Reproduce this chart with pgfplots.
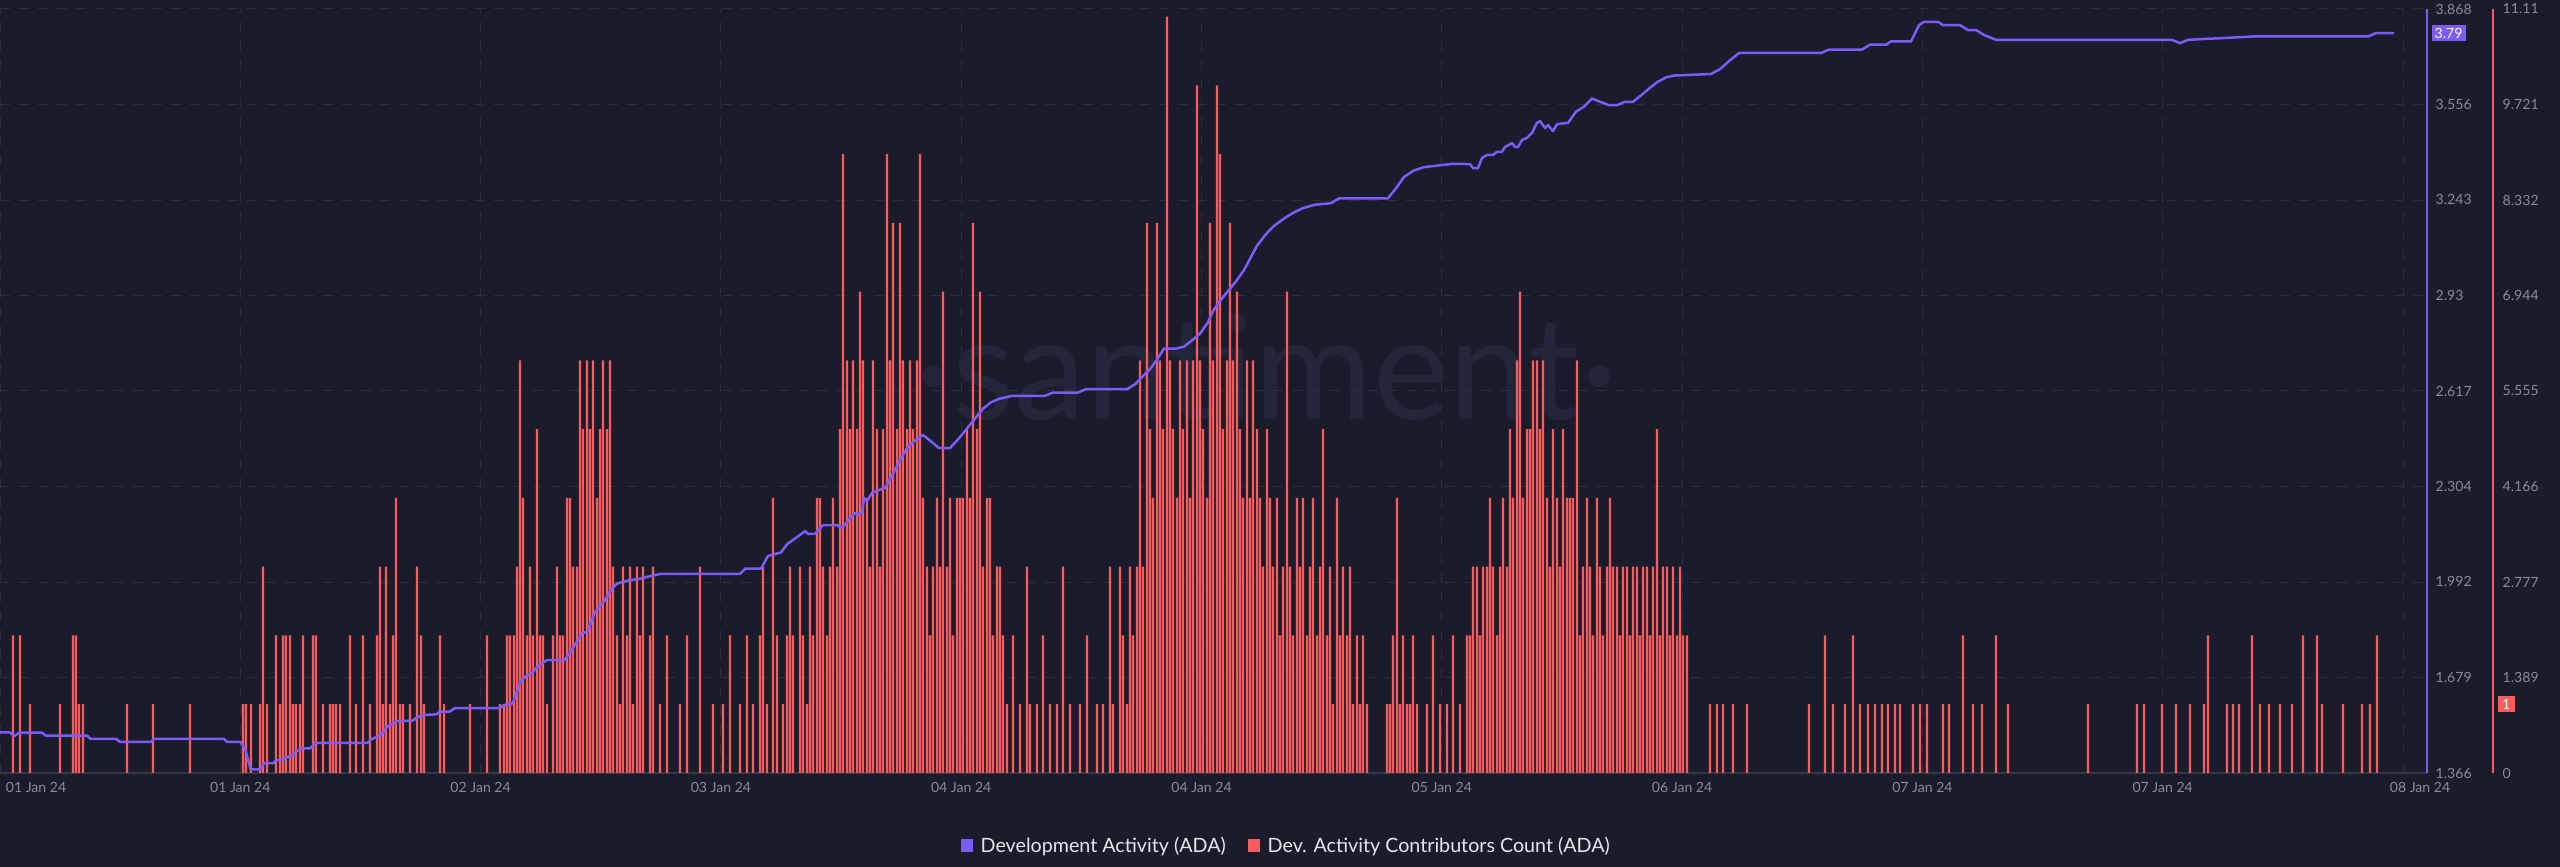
\documentclass[border=0pt]{standalone}
\usepackage{pgfplots}
\pgfplotsset{compat=1.18}
\usepackage{pgfplotstable}
\usepackage{fontspec}
\setmainfont{Lato}

\definecolor{bgc}{HTML}{1A1C2B}
\definecolor{gridc}{HTML}{2B2E3F}
\definecolor{basec}{HTML}{343748}
\definecolor{tickc}{HTML}{868A9A}
\definecolor{purpc}{HTML}{7B5CF8}
\definecolor{redc}{HTML}{FA5C5E}
\definecolor{wmc}{HTML}{23263A}
\definecolor{legc}{HTML}{E6E6EC}

\newcommand{\tickfont}{\fontsize{4}{4.8}\selectfont}

% contributors count, x in pixel columns of the plot (0..2427)
\pgfplotstableread{
x h
13 2
20 2
30 1
60 1
73 2
76 2
79 1
83 1
127 1
153 1
190 1
243 1
246 1
251 1
260 1
263 3
267 1
276 2
280 1
283 2
286 2
290 2
293 1
296 1
300 1
303 2
313 2
316 2
323 1
330 1
333 1
336 1
340 1
350 2
356 1
363 2
370 1
377 2
380 3
383 1
386 3
390 1
393 2
396 4
400 1
403 1
410 1
417 3
421 2
424 1
440 2
444 1
470 1
487 2
500 1
504 1
507 2
510 2
514 2
517 3
520 6
523 4
527 2
530 3
533 2
537 5
540 2
543 2
547 1
553 2
557 3
560 2
563 2
567 4
570 4
573 3
577 3
580 6
583 5
587 6
590 5
593 6
597 4
600 5
603 6
607 5
610 6
613 3
617 2
620 1
623 3
627 2
630 3
633 1
637 3
640 2
643 3
650 2
653 3
660 1
667 2
680 1
687 2
700 3
713 1
723 1
730 2
740 1
747 2
753 1
760 2
763 3
767 1
773 4
777 2
783 1
787 2
790 3
793 2
800 3
803 2
807 1
810 3
813 2
817 4
820 4
823 3
827 2
830 3
833 4
837 3
840 5
843 9
847 6
850 5
853 6
857 5
860 7
863 6
867 4
870 3
873 6
877 5
880 3
883 5
887 9
890 6
893 8
897 5
900 8
903 6
907 5
910 6
913 5
917 6
920 9
923 4
927 3
930 2
933 3
937 4
940 3
943 7
947 3
950 4
953 2
957 4
960 4
963 4
967 5
970 4
973 8
977 5
980 7
983 3
987 4
990 4
993 2
997 3
1000 3
1003 2
1007 1
1013 2
1020 1
1027 3
1030 1
1037 1
1043 2
1050 1
1057 1
1063 3
1070 1
1080 1
1087 2
1097 1
1103 1
1110 3
1113 1
1120 3
1123 2
1127 1
1130 3
1133 2
1137 3
1140 6
1143 3
1147 8
1150 5
1153 4
1157 8
1160 6
1163 5
1167 11
1170 6
1173 5
1177 4
1180 6
1183 5
1187 6
1190 4
1193 6
1197 10
1200 6
1203 5
1207 4
1210 8
1213 6
1217 10
1220 9
1223 5
1227 6
1230 8
1233 6
1237 7
1240 5
1243 4
1247 6
1250 4
1253 6
1257 5
1260 4
1263 3
1267 5
1270 4
1273 3
1277 4
1280 2
1283 3
1287 7
1290 3
1293 2
1297 4
1300 3
1303 4
1307 2
1310 3
1313 4
1317 2
1320 3
1323 5
1327 2
1330 3
1333 1
1337 4
1340 2
1343 3
1347 2
1350 3
1353 1
1357 2
1360 1
1363 2
1367 1
1387 1
1390 1
1393 2
1397 4
1400 1
1403 2
1407 1
1410 1
1413 2
1417 1
1427 1
1433 2
1440 1
1447 1
1453 2
1460 1
1467 2
1470 2
1473 3
1477 3
1480 2
1483 3
1487 3
1490 4
1493 3
1497 2
1500 3
1503 4
1507 3
1510 5
1513 4
1517 6
1520 7
1523 4
1527 5
1530 5
1533 6
1537 6
1540 5
1543 6
1547 4
1550 3
1553 5
1557 4
1560 3
1563 5
1567 4
1570 4
1573 4
1577 6
1580 2
1583 3
1587 4
1590 3
1593 2
1597 4
1600 3
1603 2
1607 3
1610 4
1613 3
1617 3
1620 2
1623 3
1627 3
1630 2
1633 3
1637 3
1640 2
1643 3
1647 3
1650 2
1653 3
1657 5
1660 2
1663 3
1667 3
1670 2
1673 3
1677 2
1680 3
1683 2
1687 2
1710 1
1717 1
1723 1
1733 1
1747 1
1809 1
1825 2
1833 1
1845 1
1853 2
1860 1
1868 1
1875 1
1882 1
1888 1
1895 1
1900 1
1913 1
1920 1
1927 1
1943 1
1949 1
1963 2
1973 1
1982 1
1996 2
2008 1
2088 1
2137 1
2144 1
2162 1
2176 1
2190 1
2204 1
2208 2
2227 1
2233 1
2239 1
2252 2
2260 1
2269 1
2280 1
2292 1
2303 2
2317 2
2322 1
2343 1
2362 1
2370 1
2377 2
}\bars

\begin{document}
\begin{tikzpicture}
\useasboundingbox (0,0) rectangle (256mm,86.7mm);
\fill[bgc] (0,0) rectangle (256mm,86.7mm);
\node[text=wmc, font=\fontsize{41}{41}\selectfont, inner sep=0pt] at (126.6mm,50mm) {·santiment·};

% bars, red scale
\begin{axis}[
  at={(0,9.4mm)}, anchor=south west,
  scale only axis, width=242.7mm, height=76.4mm,
  xmin=0, xmax=2427, ymin=0, ymax=11.11,
  clip=false,
  axis x line*=bottom, axis y line*=right,
  x axis line style={draw=basec, line width=0.12mm},
  y axis line style={draw=none},
  major tick length=0pt, tick style={draw=none},
  xtick={0,240.3,480.6,720.9,961.2,1201.5,1441.8,1682.1,1922.4,2162.7,2403},
  xticklabels={},
  extra x ticks={36,240.3,480.6,720.9,961.2,1201.5,1441.8,1682.1,1922.4,2162.7,2420},
  extra x tick labels={01 Jan 24,01 Jan 24,02 Jan 24,03 Jan 24,04 Jan 24,04 Jan 24,05 Jan 24,06 Jan 24,07 Jan 24,07 Jan 24,08 Jan 24},
  extra x tick style={grid=none},
  ytick={0,1.389,2.777,4.166,5.555,6.944,8.332,9.721,11.11},
  yticklabels={0,1.389,2.777,4.166,5.555,6.944,8.332,9.721,11.11},
  grid=major,
  major grid style={draw=gridc, line width=0.1mm, dash pattern=on 1mm off 0.9mm},
  xticklabel style={anchor=center, inner sep=0pt, yshift=-1.4mm, text=tickc, font=\tickfont},
  yticklabel style={anchor=west, inner sep=0pt, xshift=7.5mm, text=tickc, font=\tickfont},
]
\addplot[ybar, bar width=2.4, bar shift=0pt, fill=redc, draw=none] table[x=x, y=h] {\bars};
\node[fill=redc, text=white, font=\tickfont, inner xsep=0.45mm, inner ysep=0.3mm,
      text height=1.05mm, text depth=0pt, anchor=west] at ([xshift=7mm]axis cs:2427,1) {1};
\end{axis}

% development activity line, purple scale
\begin{axis}[
  at={(0,9.4mm)}, anchor=south west,
  scale only axis, width=242.7mm, height=76.4mm,
  xmin=0, xmax=2427, ymin=1.366, ymax=3.868,
  clip=false,
  axis x line=none, axis y line*=right,
  y axis line style={draw=purpc, line width=0.15mm},
  major tick length=0pt, tick style={draw=none},
  xtick=\empty,
  ytick={1.366,1.679,1.992,2.304,2.617,2.93,3.243,3.556,3.868},
  yticklabels={1.366,1.679,1.992,2.304,2.617,2.93,3.243,3.556,3.868},
  yticklabel style={anchor=west, inner sep=0pt, xshift=0.8mm, text=tickc, font=\tickfont},
]
\addplot[purpc, line width=0.25mm, line join=round] coordinates {
(0,1.499) (9.6,1.499) (14.5,1.487) (19.1,1.498) (42.1,1.498) (45.9,1.488)
(87.3,1.488) (90.3,1.478) (116,1.478) (119.8,1.468) (151.2,1.468) (154.2,1.478)
(223.9,1.478) (226.9,1.468) (240.3,1.468) (244.9,1.447) (250.7,1.378) (260.2,1.378)
(264.1,1.398) (273.6,1.398) (276.3,1.408) (283.2,1.408) (286.3,1.417) (292.8,1.425)
(297.7,1.439) (302.3,1.447) (310,1.447) (315.7,1.465) (367.4,1.465) (371.2,1.476)
(378.9,1.487) (382.7,1.498) (387.3,1.518) (392.3,1.526) (398,1.537) (412.6,1.537)
(417.1,1.548) (424,1.556) (436.3,1.558) (440.1,1.567) (449.7,1.567) (454.7,1.578)
(499.4,1.578) (504.4,1.589) (512.8,1.594) (520.5,1.665) (526.2,1.684) (532,1.692)
(535.8,1.709) (541.5,1.725) (547.3,1.736) (564.5,1.736) (570.2,1.761) (576,1.791)
(581.7,1.823) (587.5,1.829) (595.1,1.894) (600,1.913)
(604,1.928) (612,1.970) (617,1.986) (629,1.997) (640,2.002) (653,2.013) (661,2.018)
(740,2.018) (745,2.035) (761,2.035) (768,2.077) (781,2.088) (787,2.115)
(793,2.129) (805,2.158) (808,2.149) (815,2.149) (823,2.178) (837,2.178) (842,2.168)
(847,2.188) (855,2.218) (858,2.211) (862,2.218) (864,2.267) (867,2.257) (872,2.283)
(877,2.290) (885,2.300) (892,2.340) (900,2.390) (907,2.430) (914,2.452) (923,2.473)
(931,2.452) (939,2.430) (950,2.430) (959,2.462) (967,2.494) (975,2.527) (983,2.559)
(991,2.580) (999,2.591) (1012,2.601) (1045,2.601) (1053,2.612) (1078,2.612)
(1086,2.623) (1127,2.623) (1135,2.639) (1143,2.666) (1151,2.692) (1159,2.730)
(1164,2.756) (1176,2.756) (1184,2.762) (1192,2.783) (1200,2.805) (1208,2.842)
(1213,2.879) (1220,2.912) (1228,2.944) (1236,2.976) (1244,3.013) (1251,3.056)
(1257,3.093) (1266,3.131) (1274,3.158) (1285,3.184) (1293,3.200) (1303,3.216)
(1315,3.227) (1331,3.232) (1339,3.248) (1388,3.248) (1396,3.281) (1404,3.318)
(1414,3.339) (1424,3.350) (1437,3.355) (1453,3.361) (1470,3.360) (1473,3.347)
(1478,3.347) (1482,3.380) (1487,3.390) (1493,3.390) (1497,3.400) (1502,3.400)
(1505,3.416) (1512,3.429) (1515,3.416) (1518,3.416) (1522,3.439) (1527,3.446)
(1532,3.462) (1537,3.495) (1540,3.501) (1545,3.478) (1548,3.488) (1553,3.468)
(1557,3.491) (1568,3.495) (1576,3.532) (1584,3.548) (1592,3.575) (1600,3.564)
(1609,3.553) (1617,3.553) (1625,3.564) (1633,3.564) (1641,3.585) (1649,3.607)
(1657,3.628) (1666,3.644) (1674,3.650) (1711,3.655) (1720,3.671) (1731,3.703)
(1739,3.724) (1821,3.724) (1829,3.735) (1862,3.735) (1870,3.751) (1886,3.751)
(1891,3.762) (1911,3.762) (1919,3.815) (1924,3.826) (1938,3.826) (1943,3.815)
(1960,3.815) (1968,3.799) (1976,3.799) (1984,3.783) (1996,3.767) (2172,3.767)
(2180,3.756) (2188,3.767) (2254,3.778) (2368,3.778) (2376,3.789) (2394,3.789)
};
\node[fill=purpc, text=white, font=\tickfont, inner xsep=0.3mm, inner ysep=0.3mm,
      text height=1.05mm, text depth=0pt, anchor=west] at ([xshift=0.4mm]axis cs:2427,3.79) {3.79};
\end{axis}

\draw[redc, line width=0.15mm] (249.3mm,9.4mm) -- (249.3mm,85.8mm);

% legend
\fill[purpc] (96.1mm,1.45mm) rectangle (97.3mm,2.75mm);
\node[anchor=base west, inner sep=0pt, text=legc, font=\fontsize{5.6}{6.7}\selectfont] at (98.0mm,1.45mm) {Development Activity (ADA)};
\fill[redc] (124.8mm,1.45mm) rectangle (126.0mm,2.75mm);
\node[anchor=base west, inner sep=0pt, text=legc, font=\fontsize{5.6}{6.7}\selectfont] at (126.7mm,1.45mm) {Dev. Activity Contributors Count (ADA)};
\end{tikzpicture}
\end{document}
